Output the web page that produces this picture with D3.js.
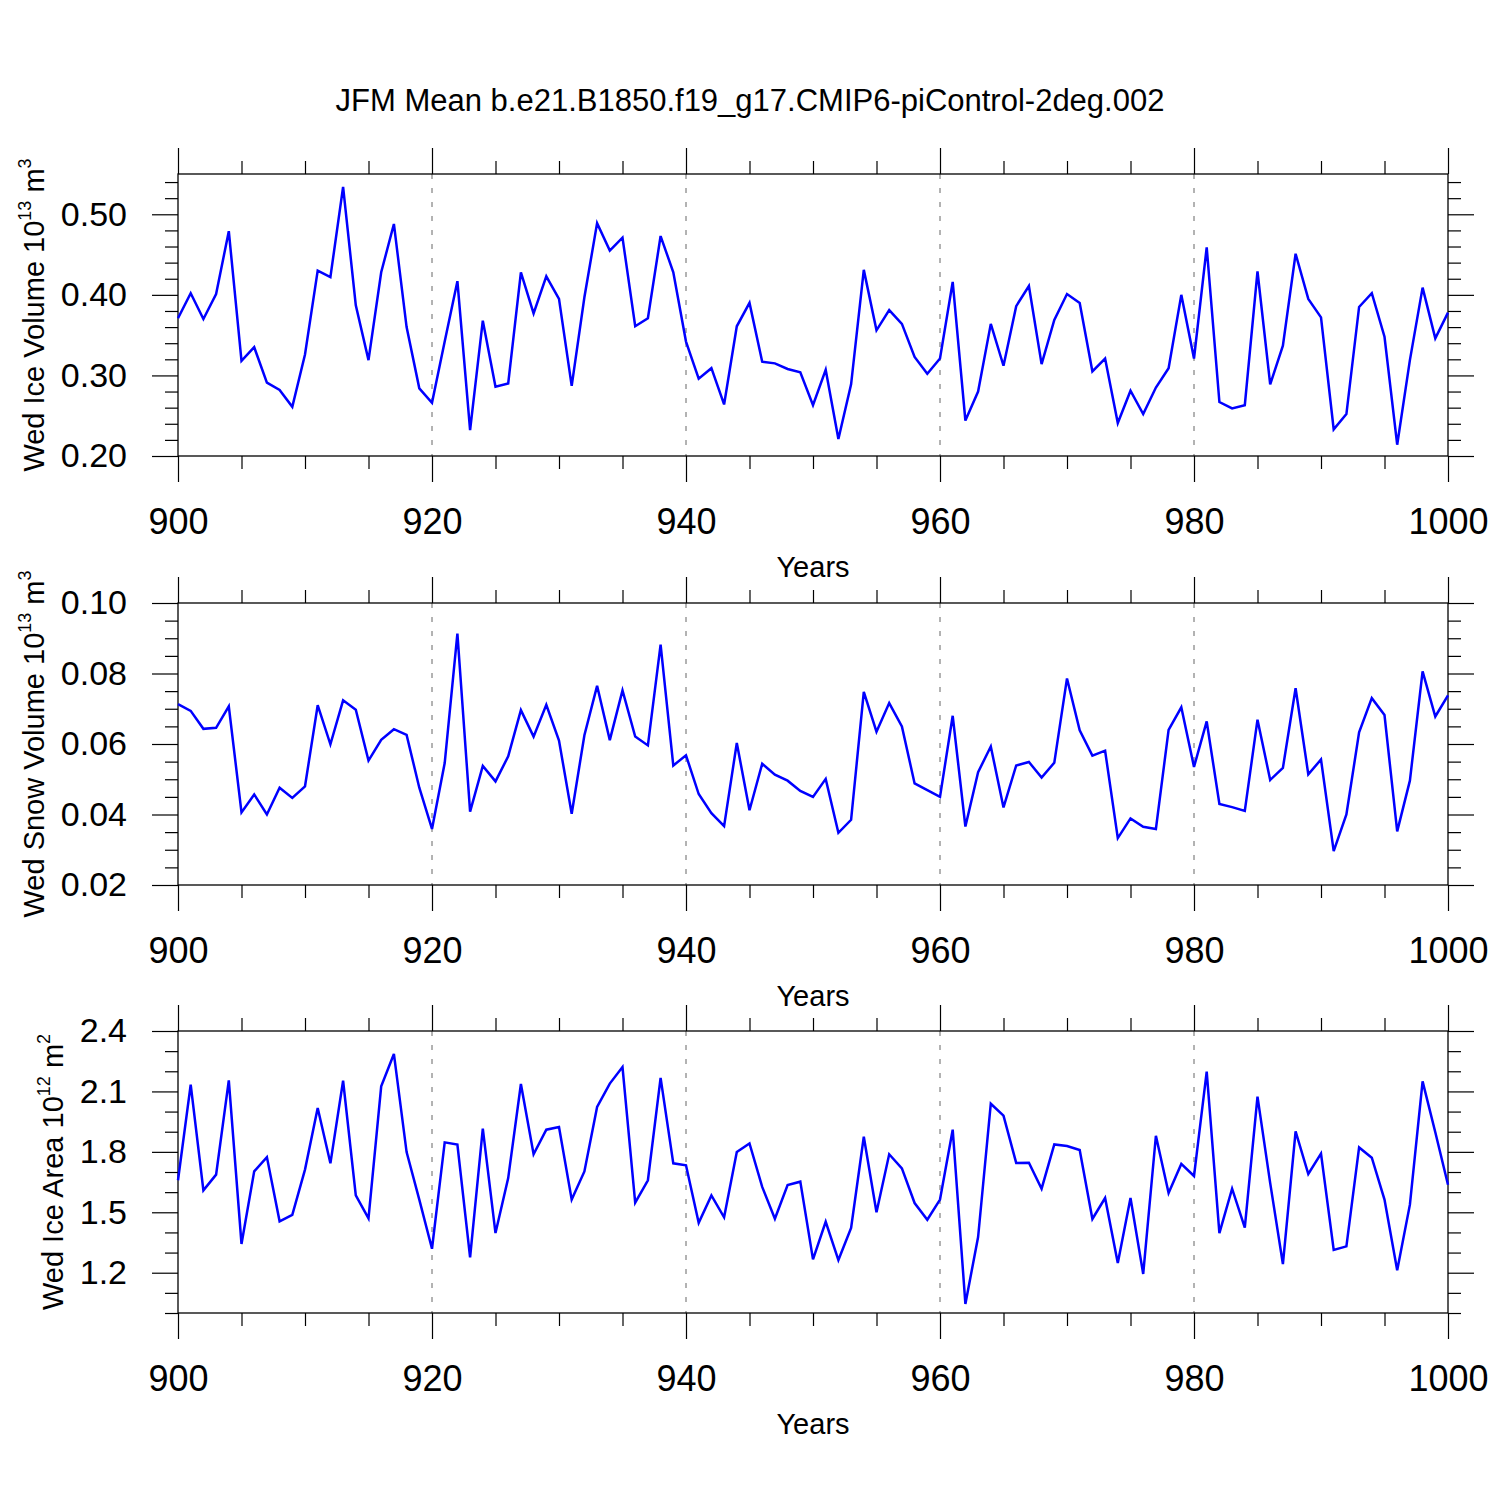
<!DOCTYPE html>
<html>
<head>
<meta charset="utf-8">
<script src="https://cdn.jsdelivr.net/npm/d3@7"></script>
<style>
  body { margin: 0; background: #fff; }
  text { font-family: "Liberation Sans", Arial, Helvetica, sans-serif; fill: #000; }
</style>
</head>
<body>
<svg width="1500" height="1500"></svg>
<script>
const years = d3.range(900, 1001);

const iceVolume = [
  0.371,0.402,0.370,0.401,0.479,0.318,0.335,0.291,0.282,0.261,
  0.326,0.430,0.422,0.534,0.387,0.319,0.428,0.488,0.360,0.284,
  0.266,0.342,0.417,0.232,0.368,0.286,0.290,0.428,0.377,0.423,
  0.395,0.287,0.397,0.489,0.455,0.471,0.361,0.371,0.473,0.428,
  0.342,0.296,0.309,0.264,0.361,0.390,0.317,0.315,0.308,0.304,
  0.263,0.307,0.221,0.289,0.431,0.356,0.381,0.364,0.323,0.302,
  0.321,0.416,0.244,0.280,0.364,0.312,0.386,0.411,0.314,0.369,
  0.401,0.390,0.305,0.321,0.241,0.281,0.252,0.285,0.309,0.400,
  0.321,0.459,0.267,0.259,0.263,0.429,0.289,0.337,0.451,0.395,
  0.372,0.233,0.252,0.385,0.402,0.348,0.214,0.319,0.409,0.346,
  0.378
];

const snowVolume = [
  0.0713,0.0694,0.0643,0.0646,0.0707,0.0406,0.0457,0.0400,0.0476,0.0447,
  0.0480,0.0710,0.0599,0.0724,0.0697,0.0553,0.0612,0.0642,0.0626,0.0476,
  0.0359,0.0546,0.0913,0.0408,0.0538,0.0494,0.0565,0.0696,0.0621,0.0711,
  0.0610,0.0402,0.0625,0.0765,0.0611,0.0752,0.0621,0.0596,0.0882,0.0539,
  0.0568,0.0458,0.0404,0.0367,0.0603,0.0412,0.0544,0.0513,0.0496,0.0467,
  0.0450,0.0501,0.0348,0.0385,0.0748,0.0635,0.0716,0.0650,0.0488,0.0469,
  0.0450,0.0680,0.0366,0.0520,0.0593,0.0420,0.0539,0.0549,0.0505,0.0547,
  0.0786,0.0639,0.0567,0.0581,0.0333,0.0389,0.0365,0.0359,0.0640,0.0704,
  0.0535,0.0664,0.0430,0.0421,0.0410,0.0669,0.0498,0.0532,0.0758,0.0514,
  0.0556,0.0296,0.0400,0.0633,0.0730,0.0682,0.0352,0.0496,0.0806,0.0678,
  0.0738
];

const iceArea = [
  1.659,2.134,1.609,1.687,2.155,1.343,1.703,1.774,1.455,1.487,
  1.712,2.018,1.743,2.153,1.584,1.470,2.125,2.286,1.799,1.563,
  1.319,1.847,1.836,1.276,1.915,1.397,1.670,2.137,1.788,1.910,
  1.923,1.563,1.703,2.023,2.139,2.221,1.548,1.659,2.167,1.743,
  1.733,1.448,1.584,1.475,1.799,1.842,1.626,1.468,1.635,1.652,
  1.266,1.453,1.263,1.422,1.875,1.500,1.788,1.718,1.546,1.463,
  1.563,1.910,1.045,1.377,2.039,1.980,1.745,1.746,1.617,1.837,
  1.829,1.809,1.467,1.571,1.248,1.571,1.194,1.880,1.596,1.740,
  1.680,2.198,1.397,1.617,1.424,2.074,1.645,1.243,1.902,1.690,
  1.791,1.313,1.331,1.822,1.771,1.563,1.212,1.538,2.150,1.897,
  1.637
];

const xTicks = [900, 920, 940, 960, 980, 1000];
const xMinor = [905, 910, 915, 925, 930, 935, 945, 950, 955, 965, 970, 975, 985, 990, 995];
const gridYears = [920, 940, 960, 980];

const iceVolTicks = [0.20, 0.30, 0.40, 0.50];
const iceVolMinor = [0.22, 0.24, 0.26, 0.28, 0.32, 0.34, 0.36, 0.38, 0.42, 0.44, 0.46, 0.48, 0.52, 0.54];
const snowTicks = [0.02, 0.04, 0.06, 0.08, 0.10];
const snowMinor = [0.025, 0.03, 0.035, 0.045, 0.05, 0.055, 0.065, 0.07, 0.075, 0.085, 0.09, 0.095];
const areaTicks = [1.2, 1.5, 1.8, 2.1, 2.4];
const areaMinor = [1.0, 1.1, 1.3, 1.4, 1.6, 1.7, 1.9, 2.0, 2.2, 2.3];

const titleText = 'JFM Mean b.e21.B1850.f19_g17.CMIP6-piControl-2deg.002';

const panels = [
  { values: iceVolume, domain: [0.20, 0.55], ticks: iceVolTicks, minor: iceVolMinor, fmt: '.2f',
    label: ['Wed Ice Volume 10', '13', ' m', '3'], top: 174 },
  { values: snowVolume, domain: [0.02, 0.10], ticks: snowTicks, minor: snowMinor, fmt: '.2f',
    label: ['Wed Snow Volume 10', '13', ' m', '3'], top: 603 },
  { values: iceArea, domain: [1.0, 2.4], ticks: areaTicks, minor: areaMinor, fmt: '.1f',
    label: ['Wed Ice Area 10', '12', ' m', '2'], top: 1031 }
];

const svg = d3.select('svg');
const left = 178, right = 1448, ph = 282;
const major = 26, minorLen = 13;

svg.append('text')
   .attr('x', 750).attr('y', 111)
   .attr('text-anchor', 'middle')
   .style('font-size', '31px')
   .text(titleText);

const x = d3.scaleLinear().domain([900, 1000]).range([left, right]);

panels.forEach(drawPanel);

function drawPanel(p){
    const g = svg.append('g');
    const top = p.top, bottom = p.top + ph;
    const y = d3.scaleLinear().domain(p.domain).range([bottom, top]);

    // dashed verticals
    g.selectAll('.grid').data(gridYears).join('line')
     .attr('x1', d => x(d)).attr('x2', d => x(d))
     .attr('y1', top).attr('y2', bottom)
     .attr('stroke', '#666').attr('stroke-width', 1)
     .attr('stroke-dasharray', '5,9');

    // bottom axis with labels
    const xb = g.append('g').attr('transform', `translate(0,${bottom})`)
      .call(d3.axisBottom(x).tickValues(xTicks).tickFormat(d3.format('d'))
            .tickSize(major).tickSizeOuter(0).tickPadding(26));
    xb.selectAll('text').style('font-size', '36px');
    g.append('g').attr('transform', `translate(0,${bottom})`)
      .call(d3.axisBottom(x).tickValues(xMinor).tickFormat('').tickSize(minorLen).tickSizeOuter(0));

    // top axis, ticks only
    g.append('g').attr('transform', `translate(0,${top})`)
      .call(d3.axisTop(x).tickValues(xTicks).tickFormat('').tickSize(major).tickSizeOuter(0));
    g.append('g').attr('transform', `translate(0,${top})`)
      .call(d3.axisTop(x).tickValues(xMinor).tickFormat('').tickSize(minorLen).tickSizeOuter(0));

    // left axis with labels
    const yl = g.append('g').attr('transform', `translate(${left},0)`)
      .call(d3.axisLeft(y).tickValues(p.ticks).tickFormat(d3.format(p.fmt))
            .tickSize(major).tickSizeOuter(0).tickPadding(25));
    yl.selectAll('text').style('font-size', '34px');
    g.append('g').attr('transform', `translate(${left},0)`)
      .call(d3.axisLeft(y).tickValues(p.minor).tickFormat('').tickSize(minorLen).tickSizeOuter(0));

    // right axis, ticks only
    g.append('g').attr('transform', `translate(${right},0)`)
      .call(d3.axisRight(y).tickValues(p.ticks).tickFormat('').tickSize(major).tickSizeOuter(0));
    g.append('g').attr('transform', `translate(${right},0)`)
      .call(d3.axisRight(y).tickValues(p.minor).tickFormat('').tickSize(minorLen).tickSizeOuter(0));

    g.selectAll('.domain').remove();
    g.selectAll('.tick line').attr('stroke', '#000').attr('stroke-width', 1.2);

    g.append('rect')
     .attr('x', left).attr('y', top)
     .attr('width', right - left).attr('height', ph)
     .attr('fill', 'none').attr('stroke', '#000').attr('stroke-width', 1.3);

    // data line
    g.append('path')
     .datum(p.values)
     .attr('fill', 'none')
     .attr('stroke', '#0000ff')
     .attr('stroke-width', 2.5)
     .attr('stroke-linejoin', 'miter')
     .attr('d', d3.line().x((d, i) => x(years[i])).y(d => y(d)));

    g.append('text')
     .attr('x', (left + right) / 2).attr('y', bottom + 121)
     .attr('text-anchor', 'middle')
     .style('font-size', '29px')
     .text('Years');

    // y title placed just left of tick labels
    const bx = yl.node().getBBox().x + left;
    const t = g.append('text')
     .attr('transform', `translate(${bx - 17},${(top + bottom) / 2}) rotate(-90)`)
     .attr('text-anchor', 'middle')
     .style('font-size', '29px');
    t.append('tspan').text(p.label[0]);
    t.append('tspan').attr('dy', -13).style('font-size', '18px').text(p.label[1]);
    t.append('tspan').attr('dy', 13).text(p.label[2]);
    t.append('tspan').attr('dy', -13).style('font-size', '18px').text(p.label[3]);
}
</script>
</body>
</html>
